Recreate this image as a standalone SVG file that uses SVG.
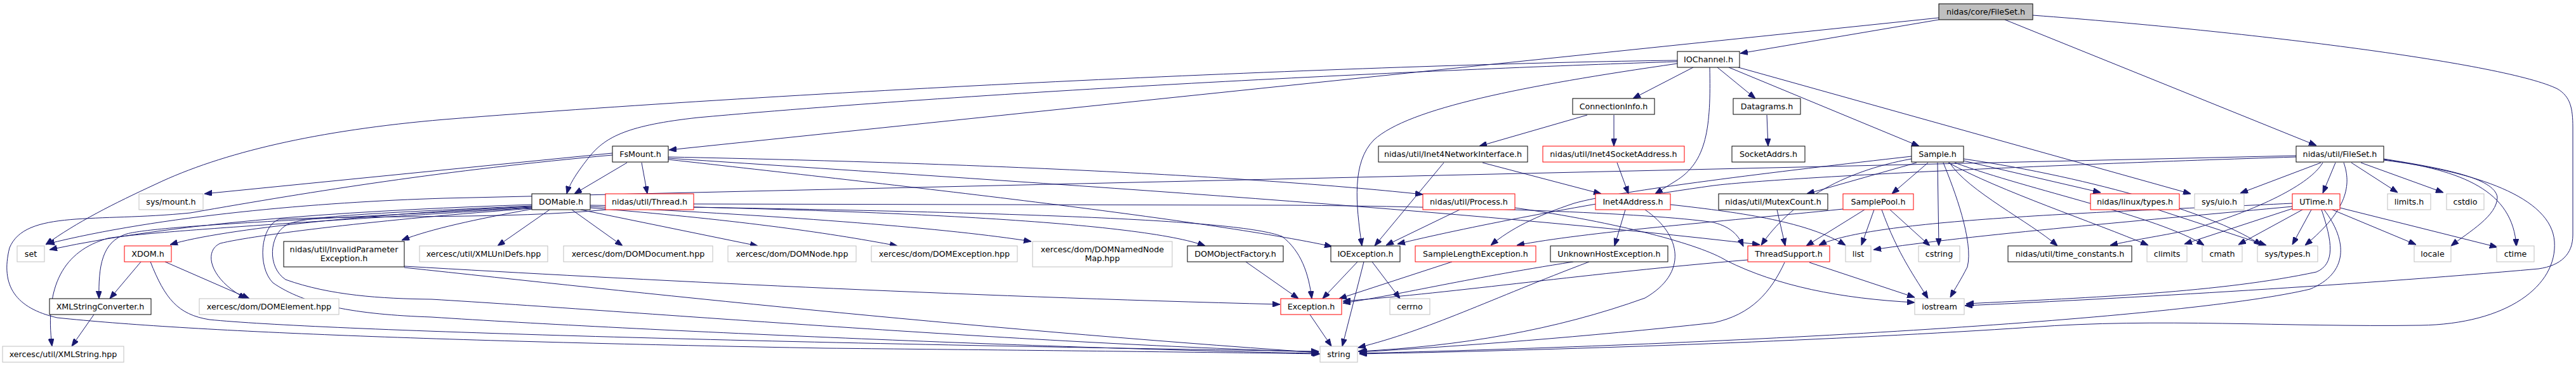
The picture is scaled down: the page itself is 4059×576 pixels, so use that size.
<svg xmlns="http://www.w3.org/2000/svg" width="4059" height="576" viewBox="0 0 4059 576">
<style>
rect{fill:#fff;stroke:#000;stroke-width:1}
.g rect{stroke:#bfbfbf}
.r rect{stroke:#f00}
.root rect{fill:#bfbfbf}
text{font-family:"DejaVu Sans",sans-serif;font-size:12.7px;text-anchor:middle;fill:#000}
#edges path{fill:none;stroke:#191970;stroke-width:1;marker-end:url(#a)}
</style>
<defs>
<marker id="a" markerUnits="userSpaceOnUse" markerWidth="12" markerHeight="9" refX="12" refY="4.5" orient="auto"><path d="M0,0 L12,4.5 L0,9 z" fill="#191970" stroke="#191970"/></marker>
</defs>
<rect x="0" y="0" width="4059" height="576" style="fill:#fff;stroke:none"/>
<g id="edges">
<path d="M3055,31 L2742,84"/>
<path d="M3055,28 L1054,236"/>
<path d="M3159,31 L3650,229"/>
<path d="M3203,24 C3550,50 3950,100 4030,140 C4050,152 4054,170 4054,200 L4054,370 C4054,400 4035,418 4000,423 C3700,450 3300,472 3096,481"/>
<path d="M2668,106 L2573,155"/>
<path d="M2706,106 L2766,155"/>
<path d="M2724,106 L3024,230"/>
<path d="M2739,106 L3452,305"/>
<path d="M2643,95 C2200,100 1300,140 700,188 C500,205 350,240 245,290 C180,320 120,350 72,385"/>
<path d="M2643,97 C2300,108 1600,140 1100,185 C990,197 955,215 930,245 C910,270 897,290 893,305"/>
<path d="M2643,100 C2400,135 2220,170 2165,220 C2130,255 2136,320 2146,387"/>
<path d="M2694,106 C2696,200 2690,255 2640,285 L2608,305"/>
<path d="M2501,181 L2331,230"/>
<path d="M2543,181 L2543,230"/>
<path d="M2784,181 L2786,230"/>
<path d="M2275,256 L2166,387"/>
<path d="M2336,256 L2523,305"/>
<path d="M2548,256 L2566,305"/>
<path d="M988,256 L905,305"/>
<path d="M1011,256 L1020,305"/>
<path d="M965,241 L322,305"/>
<path d="M965,244 C700,268 500,300 300,335 C150,350 40,330 15,390 C0,450 25,485 90,500 C300,522 700,537 1300,548 C1700,552 1950,555 2080,557"/>
<path d="M1053,247 C1600,258 2000,280 2242,306"/>
<path d="M1053,249 C1700,292 2300,330 2773,385"/>
<path d="M1053,251 C1400,290 1900,345 2099,388"/>
<path d="M1093,321 L2032,323 C2300,325 2600,335 2700,350 C2730,358 2740,372 2747,388"/>
<path d="M1093,326 C1600,335 1950,345 2020,372 C2050,395 2062,430 2067,470"/>
<path d="M955,330 C800,345 600,338 440,345 C410,355 405,420 430,445 C480,480 560,495 680,499 C1000,520 1700,550 2078,556"/>
<path d="M866,330 L784,387"/>
<path d="M901,330 L981,387"/>
<path d="M915,330 L1194,387"/>
<path d="M838,322 C600,330 300,345 78,393"/>
<path d="M838,325 C600,335 350,360 268,385"/>
<path d="M838,326 C500,345 250,355 200,368 C160,380 155,420 156,470"/>
<path d="M838,327 C500,348 230,365 170,375 C100,395 70,450 82,545"/>
<path d="M838,328 C600,345 400,370 347,383 C320,395 330,440 388,470"/>
<path d="M838,329 C750,345 680,360 633,378"/>
<path d="M930,327 C1150,345 1300,365 1414,387"/>
<path d="M930,325 C1250,340 1500,360 1625,380"/>
<path d="M930,323 C1400,330 1800,350 1899,387"/>
<path d="M838,324 C600,335 470,340 450,355 C425,370 420,420 450,440 C520,465 600,470 680,471 C1000,490 1600,540 2078,554"/>
<path d="M222,412 L173,470"/>
<path d="M260,412 L393,470"/>
<path d="M237,412 C260,470 280,495 330,503 C500,520 1200,540 2078,553"/>
<path d="M148,495 L113,545"/>
<path d="M637,419 C1000,440 1500,466 2017,479"/>
<path d="M637,421 C1000,460 1500,515 2078,555"/>
<path d="M1963,412 L2046,470"/>
<path d="M2300,330 L2184,386"/>
<path d="M2387,327 C2550,350 2680,385 2720,410 C2800,450 2900,470 3017,476"/>
<path d="M2592,330 C2650,370 2660,430 2592,469 C2450,520 2300,545 2140,553"/>
<path d="M2561,330 L2544,387"/>
<path d="M2632,322 C2750,335 2850,350 2908,386"/>
<path d="M3618,247 C3200,260 2800,280 2700,292 C2500,320 2300,360 2202,384"/>
<path d="M3618,245 L700,312 C500,318 250,340 74,384"/>
<path d="M3012,246 C2800,270 2550,300 2480,320 C2420,340 2380,360 2349,386"/>
<path d="M2904,329 C2700,350 2500,365 2390,386"/>
<path d="M3012,250 C2900,270 2820,320 2775,386"/>
<path d="M3070,256 C3150,300 3300,350 3385,386"/>
<path d="M3080,256 C3200,300 3400,340 3473,386"/>
<path d="M3094,250 C3300,280 3500,340 3563,386"/>
<path d="M3094,253 L3310,303"/>
<path d="M3072,256 C3100,300 3200,350 3242,387"/>
<path d="M3062,256 C3080,300 3110,380 3100,420 C3090,440 3080,455 3073,468"/>
<path d="M3053,256 L3055,387"/>
<path d="M3038,256 L2981,305"/>
<path d="M3020,256 L2847,305"/>
<path d="M3400,330 L3571,386"/>
<path d="M2800,330 L2813,387"/>
<path d="M2938,330 L2846,387"/>
<path d="M2953,330 L2933,386"/>
<path d="M2978,330 L3041,387"/>
<path d="M2965,330 C2990,400 3020,440 3038,470"/>
<path d="M2754,409 C2500,430 2300,460 2116,474"/>
<path d="M2851,413 L3017,468"/>
<path d="M2812,413 C2790,460 2760,495 2700,508 C2500,530 2300,545 2142,554"/>
<path d="M2064,495 L2098,545"/>
<path d="M2139,412 L2084,470"/>
<path d="M2149,412 L2115,545"/>
<path d="M2162,412 L2206,470"/>
<path d="M2288,412 L2110,470"/>
<path d="M2479,412 C2300,440 2200,465 2116,477"/>
<path d="M2504,412 C2350,470 2250,520 2140,547"/>
<path d="M3612,320 C3300,335 2950,345 2866,386"/>
<path d="M3612,325 C3400,345 3100,370 2952,393"/>
<path d="M3660,256 C3640,290 3560,330 3450,362 C3400,372 3360,378 3325,386"/>
<path d="M3613,328 L3442,384"/>
<path d="M3628,330 L3527,385"/>
<path d="M3642,330 L3612,385"/>
<path d="M3675,330 L3807,385"/>
<path d="M3687,327 L3935,389"/>
<path d="M3658,330 C3675,380 3680,415 3650,428 C3500,460 3300,468 3098,478"/>
<path d="M3662,330 C3700,380 3700,430 3640,455 C3450,500 2800,540 2142,556"/>
<path d="M3756,252 C3900,270 4020,310 4025,380 C4030,450 3950,510 3814,512 C3600,515 3400,500 3200,515 C2900,535 2500,550 2142,557"/>
<path d="M3756,250 C3850,265 3930,280 3935,310 C3935,340 3890,365 3862,387"/>
<path d="M3756,251 C3880,268 3960,300 3965,388"/>
<path d="M3705,256 L3778,303"/>
<path d="M3720,256 L3850,303"/>
<path d="M3657,256 L3530,304"/>
<path d="M3680,256 L3660,304"/>
<path d="M3693,256 C3705,290 3700,330 3632,386"/>
</g>
<g id="n_root" class="root"><rect x="3055" y="6" width="148" height="25"/><text x="3129" y="23">nidas/core/FileSet.h</text></g>
<g id="n_iochannel"><rect x="2643" y="81" width="98" height="25"/><text x="2692" y="98">IOChannel.h</text></g>
<g id="n_conninfo"><rect x="2478" y="155" width="129" height="25"/><text x="2542.5" y="172">ConnectionInfo.h</text></g>
<g id="n_datagrams"><rect x="2731" y="155" width="106" height="25"/><text x="2784" y="172">Datagrams.h</text></g>
<g id="n_fsmount"><rect x="965" y="230" width="88" height="25"/><text x="1009" y="247">FsMount.h</text></g>
<g id="n_inet4ni"><rect x="2172" y="230" width="235" height="25"/><text x="2289.5" y="247">nidas/util/Inet4NetworkInterface.h</text></g>
<g id="n_inet4sa" class="r"><rect x="2431" y="230" width="223" height="25"/><text x="2542.5" y="247">nidas/util/Inet4SocketAddress.h</text></g>
<g id="n_socketaddrs"><rect x="2729" y="230" width="115" height="25"/><text x="2786.5" y="247">SocketAddrs.h</text></g>
<g id="n_sample"><rect x="3012" y="230" width="82" height="25"/><text x="3053" y="247">Sample.h</text></g>
<g id="n_utilfileset"><rect x="3618" y="230" width="138" height="25"/><text x="3687" y="247">nidas/util/FileSet.h</text></g>
<g id="n_sysmount" class="g"><rect x="219" y="305" width="101" height="25"/><text x="269.5" y="322">sys/mount.h</text></g>
<g id="n_domable"><rect x="838" y="305" width="92" height="25"/><text x="884" y="322">DOMable.h</text></g>
<g id="n_thread" class="r"><rect x="954" y="305" width="139" height="25"/><text x="1023.5" y="322">nidas/util/Thread.h</text></g>
<g id="n_process" class="r"><rect x="2242" y="305" width="145" height="25"/><text x="2314.5" y="322">nidas/util/Process.h</text></g>
<g id="n_inet4addr" class="r"><rect x="2514" y="305" width="118" height="25"/><text x="2573" y="322">Inet4Address.h</text></g>
<g id="n_mutexcount"><rect x="2708" y="305" width="172" height="25"/><text x="2794" y="322">nidas/util/MutexCount.h</text></g>
<g id="n_samplepool" class="r"><rect x="2904" y="305" width="111" height="25"/><text x="2959.5" y="322">SamplePool.h</text></g>
<g id="n_linuxtypes" class="r"><rect x="3294" y="305" width="140" height="25"/><text x="3364" y="322">nidas/linux/types.h</text></g>
<g id="n_sysuio" class="g"><rect x="3458" y="305" width="78" height="25"/><text x="3497" y="322">sys/uio.h</text></g>
<g id="n_utime" class="r"><rect x="3612" y="305" width="75" height="25"/><text x="3649.5" y="322">UTime.h</text></g>
<g id="n_limits" class="g"><rect x="3762" y="305" width="68" height="25"/><text x="3796" y="322">limits.h</text></g>
<g id="n_cstdio" class="g"><rect x="3855" y="305" width="59" height="25"/><text x="3884.5" y="322">cstdio</text></g>
<g id="n_set" class="g"><rect x="27" y="387" width="43" height="25"/><text x="48.5" y="404">set</text></g>
<g id="n_xdom" class="r"><rect x="196" y="387" width="74" height="25"/><text x="233" y="404">XDOM.h</text></g>
<g id="n_invparam"><rect x="447" y="380" width="190" height="40"/><text x="542" y="396.5">nidas/util/InvalidParameter</text><text x="542" y="410.5">Exception.h</text></g>
<g id="n_xmlunidefs" class="g"><rect x="661" y="387" width="202" height="25"/><text x="762" y="404">xercesc/util/XMLUniDefs.hpp</text></g>
<g id="n_domdocument" class="g"><rect x="888" y="387" width="235" height="25"/><text x="1005.5" y="404">xercesc/dom/DOMDocument.hpp</text></g>
<g id="n_domnode" class="g"><rect x="1147" y="387" width="202" height="25"/><text x="1248" y="404">xercesc/dom/DOMNode.hpp</text></g>
<g id="n_domexception" class="g"><rect x="1373" y="387" width="230" height="25"/><text x="1488" y="404">xercesc/dom/DOMException.hpp</text></g>
<g id="n_domnnm" class="g"><rect x="1627" y="380" width="220" height="40"/><text x="1737" y="396.5">xercesc/dom/DOMNamedNode</text><text x="1737" y="410.5">Map.hpp</text></g>
<g id="n_domobjfactory"><rect x="1871" y="387" width="151" height="25"/><text x="1946.5" y="404">DOMObjectFactory.h</text></g>
<g id="n_ioexception"><rect x="2097" y="387" width="109" height="25"/><text x="2151.5" y="404">IOException.h</text></g>
<g id="n_samplelenexc" class="r"><rect x="2230" y="387" width="190" height="25"/><text x="2325" y="404">SampleLengthException.h</text></g>
<g id="n_unknownhost"><rect x="2443" y="387" width="185" height="25"/><text x="2535.5" y="404">UnknownHostException.h</text></g>
<g id="n_threadsupport" class="r"><rect x="2754" y="387" width="129" height="25"/><text x="2818.5" y="404">ThreadSupport.h</text></g>
<g id="n_list" class="g"><rect x="2908" y="387" width="40" height="25"/><text x="2928" y="404">list</text></g>
<g id="n_cstring" class="g"><rect x="3023" y="387" width="65" height="25"/><text x="3055.5" y="404">cstring</text></g>
<g id="n_timeconst"><rect x="3164" y="387" width="195" height="25"/><text x="3261.5" y="404">nidas/util/time_constants.h</text></g>
<g id="n_climits" class="g"><rect x="3383" y="387" width="63" height="25"/><text x="3414.5" y="404">climits</text></g>
<g id="n_cmath" class="g"><rect x="3470" y="387" width="63" height="25"/><text x="3501.5" y="404">cmath</text></g>
<g id="n_systypes" class="g"><rect x="3557" y="387" width="95" height="25"/><text x="3604.5" y="404">sys/types.h</text></g>
<g id="n_locale" class="g"><rect x="3804" y="387" width="58" height="25"/><text x="3833" y="404">locale</text></g>
<g id="n_ctime" class="g"><rect x="3934" y="387" width="59" height="25"/><text x="3963.5" y="404">ctime</text></g>
<g id="n_xmlstrconv"><rect x="78" y="470" width="160" height="25"/><text x="158" y="487">XMLStringConverter.h</text></g>
<g id="n_domelement" class="g"><rect x="314" y="470" width="220" height="25"/><text x="424" y="487">xercesc/dom/DOMElement.hpp</text></g>
<g id="n_exception" class="r"><rect x="2018" y="470" width="96" height="25"/><text x="2066" y="487">Exception.h</text></g>
<g id="n_cerrno" class="g"><rect x="2190" y="470" width="63" height="25"/><text x="2221.5" y="487">cerrno</text></g>
<g id="n_iostream" class="g"><rect x="3017" y="470" width="78" height="25"/><text x="3056" y="487">iostream</text></g>
<g id="n_xmlstring" class="g"><rect x="4" y="545" width="191" height="25"/><text x="99.5" y="562">xercesc/util/XMLString.hpp</text></g>
<g id="n_string" class="g"><rect x="2080" y="545" width="59" height="25"/><text x="2109.5" y="562">string</text></g>
</svg>
